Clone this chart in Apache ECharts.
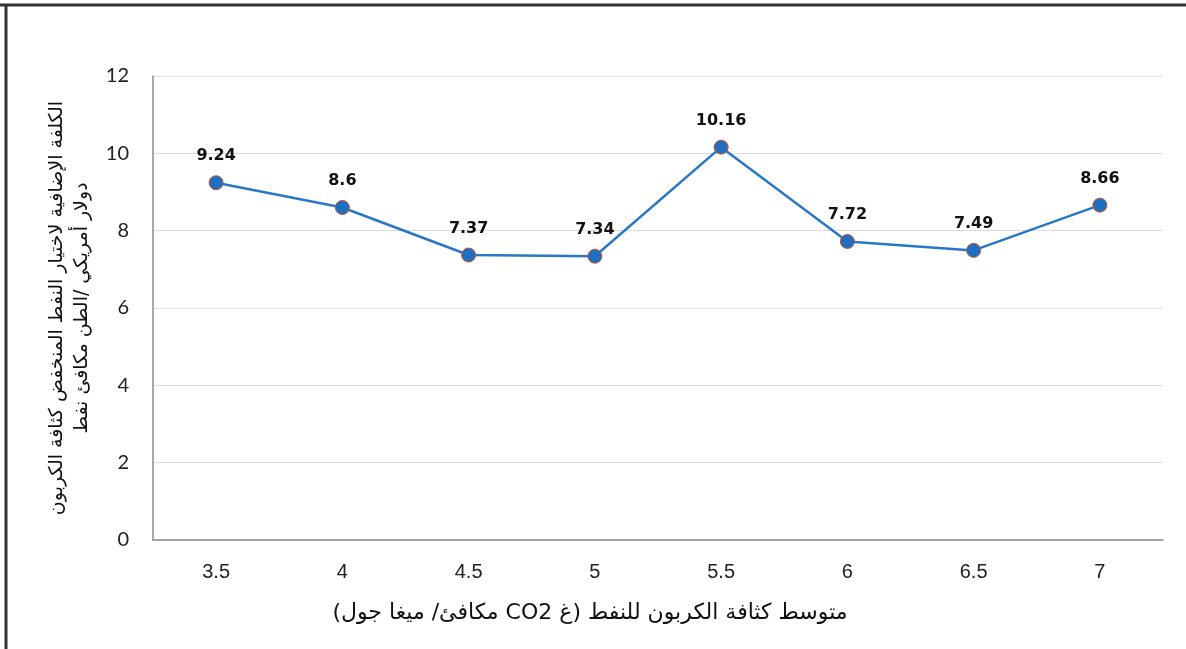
<!DOCTYPE html>
<html>
<head>
<meta charset="utf-8">
<script src="https://cdn.jsdelivr.net/npm/echarts@6/dist/echarts.min.js"></script>
<style>
  html, body { margin: 0; padding: 0; background: #fff; }
  #chart { width: 1186px; height: 649px; }
</style>
</head>
<body>
<div id="chart"></div>
<script>
// Average carbon intensity of oil (g CO2e / MJ)
const categories = ['3.5', '4', '4.5', '5', '5.5', '6', '6.5', '7'];
// Extra cost of choosing low-carbon oil (USD / tonne oil equivalent)
const costValues = [9.24, 8.6, 7.37, 7.34, 10.16, 7.72, 7.49, 8.66];
const yTicks = { min: 0, max: 12, interval: 2 };

// Right-to-left embedding so the Arabic titles keep their reading order on canvas
const rtl = s => '\u202B' + s + '\u202C';
const yTitle = rtl('الكلفة الإضافية لاختيار النفط المنخفض كثافة الكربون') + '\n' +
               rtl('دولار أمريكي /الطن مكافئ نفط');
const xTitle = rtl('متوسط كثافة الكربون للنفط (غ CO2 مكافئ/ ميغا جول)');

const chart = echarts.init(document.getElementById('chart'));
chart.setOption({
  backgroundColor: '#ffffff',
  animation: false,
  grid: { left: 153, right: 23, top: 76, bottom: 109 },
  xAxis: {
    type: 'category',
    data: categories,
    boundaryGap: true,
    axisLine: { lineStyle: { color: '#8c8c8c', width: 1.5 } },
    axisTick: { show: false },
    axisLabel: { margin: 22, fontFamily: 'Liberation Sans', fontSize: 20, color: '#222' }
  },
  yAxis: {
    type: 'value',
    min: yTicks.min,
    max: yTicks.max,
    interval: yTicks.interval,
    axisLine: { show: true, lineStyle: { color: '#8c8c8c', width: 1.5 } },
    axisTick: { show: false },
    splitLine: { lineStyle: { color: '#dcdcdc', width: 1 } },
    axisLabel: { margin: 24, fontFamily: 'Lato', fontSize: 20, color: '#222' },
    name: yTitle,
    nameLocation: 'middle',
    nameGap: 46,
    nameRotate: 90,
    nameTextStyle: { fontFamily: 'DejaVu Sans', fontSize: 19, color: '#111', lineHeight: 25, align: 'center' }
  },
  series: [{
    type: 'line',
    data: costValues,
    symbol: 'circle',
    symbolSize: 14,
    lineStyle: { color: '#2878c6', width: 2.5 },
    itemStyle: { color: '#1f6fc1', borderColor: '#d0502a', borderWidth: 1 },
    label: {
      show: true,
      position: 'top',
      distance: 11,
      fontFamily: 'DejaVu Sans',
      fontWeight: 'bold',
      fontSize: 16,
      color: '#111'
    }
  }],
  graphic: [
    { type: 'line', shape: { x1: 0, y1: 5, x2: 1186, y2: 5 }, style: { stroke: '#333', lineWidth: 3 } },
    { type: 'line', shape: { x1: 6, y1: 4, x2: 6, y2: 649 }, style: { stroke: '#333', lineWidth: 3 } },
    {
      type: 'text', x: 590, y: 613,
      style: { text: xTitle, fontFamily: 'DejaVu Sans', fontSize: 22, fill: '#111', align: 'center', verticalAlign: 'middle' }
    }
  ]
});
</script>
</body>
</html>
